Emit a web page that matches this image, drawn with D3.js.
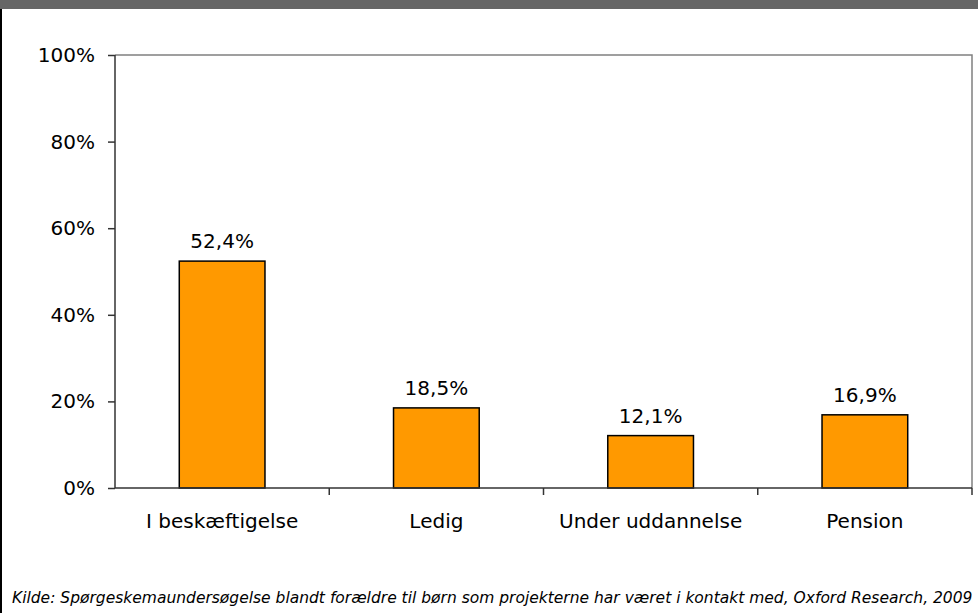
<!DOCTYPE html>
<html>
<head>
<meta charset="utf-8">
<script src="https://cdn.jsdelivr.net/npm/d3@7"></script>
<style>
	body { margin: 0; background: #fff; }
	svg { display: block; }
	text { font-family: "DejaVu Sans", Verdana, sans-serif; fill: #000; }
	.axis path, .axis line { stroke: #333; stroke-width: 1.5; }
	.axis text { font-size: 20px; }
	.frame { fill: none; stroke: #808080; stroke-width: 1.5; }
	.bar { fill: #ff9900; stroke: #000; stroke-width: 1.5; }
	text.value { font-size: 20px; }
	text.source { font-size: 15.5px; font-style: italic; }
</style>
</head>
<body>
<div id="chart"></div>
<script>
const categories = ["I beskæftigelse", "Ledig", "Under uddannelse", "Pension"];
const values = [52.4, 18.5, 12.1, 16.9];
const yTicks = [0, 20, 40, 60, 80, 100];
const source = "Kilde: Spørgeskemaundersøgelse blandt forældre til børn som projekterne har været i kontakt med, Oxford Research, 2009";

const W = 978, H = 613;
const margin = { top: 55, right: 6, bottom: 125, left: 115 };
const width = W - margin.left - margin.right;
const height = H - margin.top - margin.bottom;

const svg = d3.select("#chart").append("svg")
	.attr("width", W)
	.attr("height", H);

// header band and left edge
svg.append("rect").attr("x", 0).attr("y", 0).attr("width", W).attr("height", 9).attr("fill", "#666");
svg.append("line").attr("x1", 1).attr("x2", 1).attr("y1", 9).attr("y2", H)
	.attr("stroke", "#000").attr("stroke-width", 2);

const chart = svg.append("g")
	.attr("transform", `translate(${margin.left}, ${margin.top})`);

const x = d3.scaleBand()
	.domain(categories)
	.range([0, width])
	.paddingInner(0.6)
	.paddingOuter(0.3);

const xEdges = d3.scaleLinear().domain([0, categories.length]).range([0, width]);

const y = d3.scaleLinear()
	.domain([0, 100])
	.range([height, 0]);

// plot area border (top and right)
chart.append("path")
	.attr("class", "frame")
	.attr("d", `M0,${y(100)}H${width}V${y(0)}`);

chart.selectAll(".bar")
	.data(values)
	.enter()
	.append("rect")
	.attr("class", "bar")
	.attr("x", (d, i) => x(categories[i]))
	.attr("y", d => y(d))
	.attr("width", x.bandwidth())
	.attr("height", d => y(0) - y(d));

chart.selectAll(".value")
	.data(values)
	.enter()
	.append("text")
	.attr("class", "value")
	.attr("x", (d, i) => x(categories[i]) + x.bandwidth() / 2)
	.attr("y", d => y(d) - 13)
	.attr("text-anchor", "middle")
	.text(d => d.toFixed(1).replace(".", ",") + "%");

// y axis
const yAxis = chart.append("g")
	.attr("class", "axis")
	.call(d3.axisLeft(y).tickValues(yTicks).tickSize(7).tickPadding(13).tickFormat(d => d + "%"));
yAxis.select(".domain").attr("d", `M0,${y(0)}V${y(100)}`);

// x axis: ticks between categories
const xAxis = chart.append("g")
	.attr("class", "axis")
	.attr("transform", `translate(0, ${height})`);
xAxis.append("path").attr("d", `M0,0H${width}`).attr("stroke", "#333").attr("stroke-width", 1.5);
xAxis.selectAll("line")
	.data(d3.range(1, categories.length + 1))
	.enter()
	.append("line")
	.attr("x1", d => xEdges(d)).attr("x2", d => xEdges(d))
	.attr("y1", 0).attr("y2", 7);
xAxis.selectAll("text")
	.data(categories)
	.enter()
	.append("text")
	.attr("x", d => x(d) + x.bandwidth() / 2)
	.attr("y", 40)
	.attr("text-anchor", "middle")
	.text(d => d);

svg.append("text")
	.attr("class", "source")
	.attr("x", 12)
	.attr("y", 603)
	.text(source);
</script>
</body>
</html>
